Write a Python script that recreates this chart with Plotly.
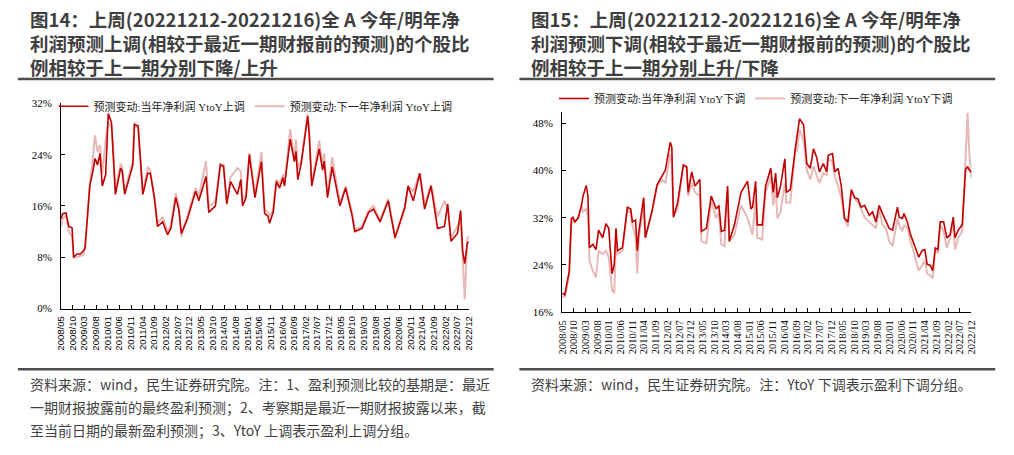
import plotly.graph_objects as go

# 图14 数据(关键点, 读自原图)
l_dates = ["2008-05-01", "2008-05-21", "2008-07-04", "2008-08-10", "2008-09-21", "2008-10-12", "2008-11-24", "2009-01-07", "2009-02-18", "2009-03-10",
           "2009-05-12", "2009-06-12", "2009-07-18", "2009-08-21", "2009-09-21", "2009-10-21", "2009-12-04", "2010-01-07", "2010-02-18", "2010-03-10",
           "2010-04-10", "2010-06-18", "2010-07-07", "2010-08-10", "2010-11-24", "2010-12-15", "2011-02-01", "2011-04-04", "2011-06-07", "2011-07-10",
           "2011-09-01", "2011-10-12", "2011-12-18", "2012-02-21", "2012-04-04", "2012-06-07", "2012-07-18", "2012-08-18", "2012-11-07", "2013-02-21",
           "2013-04-04", "2013-07-07", "2013-08-12", "2013-11-07", "2014-01-10", "2014-02-21", "2014-04-04", "2014-05-24", "2014-08-21", "2014-10-04",
           "2014-10-27", "2014-12-12", "2015-01-24", "2015-04-07", "2015-07-01", "2015-08-12", "2015-09-24", "2015-10-15", "2015-12-01", "2016-01-12",
           "2016-02-24", "2016-04-07", "2016-04-27", "2016-07-10", "2016-09-04", "2016-09-24", "2016-10-18", "2016-12-01", "2017-02-24", "2017-03-15",
           "2017-04-18", "2017-05-18", "2017-07-24", "2017-09-07", "2017-09-27", "2017-11-10", "2018-01-10", "2018-04-21", "2018-07-04", "2018-09-27",
           "2018-11-01", "2019-02-04", "2019-05-01", "2019-07-04", "2019-09-27", "2020-01-12", "2020-04-10", "2020-08-15", "2020-09-27", "2020-12-04",
           "2021-02-27", "2021-05-01", "2021-07-24", "2021-10-18", "2022-01-15", "2022-02-27", "2022-04-10", "2022-07-04", "2022-08-15", "2022-09-10",
           "2022-10-07", "2022-11-10", "2022-12-01"]

l_cur_up = [14.0, 14.8, 14.9, 12.8, 12.6, 8.0, 8.5, 8.5, 9.0, 9.5,
            19.3, 20.9, 23.4, 22.4, 24.2, 19.1, 20.9, 30.4, 29.0, 25.0,
            17.8, 21.9, 21.5, 17.8, 22.4, 28.7, 28.5, 17.8, 21.1, 21.1,
            17.3, 12.8, 13.5, 11.5, 12.5, 17.3, 15.3, 11.7, 14.0, 18.3,
            16.8, 20.6, 15.0, 16.0, 22.4, 22.2, 16.3, 19.8, 17.8, 20.1,
            16.0, 17.3, 24.0, 17.3, 22.9, 14.8, 14.4, 13.3, 15.0, 19.8,
            18.8, 20.4, 19.1, 26.4, 22.9, 24.5, 20.1, 22.6, 30.0, 27.4,
            19.1, 20.9, 24.9, 21.6, 23.0, 17.3, 22.1, 16.0, 18.8, 14.5,
            12.0, 12.5, 15.0, 15.5, 13.5, 16.8, 11.0, 15.8, 19.1, 16.8,
            21.1, 15.5, 19.1, 12.5, 12.8, 16.3, 10.5, 11.7, 15.3, 9.0,
            7.0, 10.2, 10.4]

l_next_up = [12.8, 14.0, 14.5, 12.0, 11.2, 7.9, 8.0, 8.2, 8.4, 9.3,
             19.5, 22.5, 27.0, 24.4, 25.5, 21.0, 26.4, 29.0, 28.5, 25.5,
             18.5, 22.6, 22.0, 18.3, 23.0, 29.0, 28.0, 18.0, 22.1, 21.5,
             17.5, 13.3, 14.3, 12.0, 13.0, 18.0, 16.0, 11.2, 14.5, 18.8,
             17.5, 23.0, 15.8, 16.8, 22.6, 22.3, 17.0, 20.5, 21.9, 21.4,
             17.0, 17.8, 24.2, 17.8, 24.4, 15.5, 15.0, 14.4, 15.5, 20.1,
             19.5, 20.9, 19.5, 28.0, 23.3, 26.4, 22.0, 23.0, 30.3, 27.8,
             19.6, 21.5, 26.2, 22.5, 24.2, 17.8, 23.6, 16.5, 19.1, 15.0,
             12.3, 12.8, 15.3, 16.0, 13.8, 17.1, 11.3, 15.5, 19.1, 18.3,
             21.1, 16.3, 19.3, 14.3, 16.8, 15.5, 11.0, 12.8, 13.5, 8.0,
             1.4, 11.0, 11.2]

# 图15 数据
r_dates = ["2008-05-01", "2008-06-04", "2008-08-01", "2008-08-28", "2008-09-18", "2008-10-12", "2008-11-24", "2009-01-07", "2009-01-28", "2009-03-10",
           "2009-04-01", "2009-04-21", "2009-06-04", "2009-07-15", "2009-08-18", "2009-10-10", "2009-11-21", "2009-12-28", "2010-02-09", "2010-03-10",
           "2010-04-01", "2010-04-21", "2010-06-24", "2010-08-28", "2010-10-10", "2010-11-01", "2010-12-12", "2011-01-04", "2011-01-24", "2011-03-28",
           "2011-04-18", "2011-07-15", "2011-09-18", "2011-11-21", "2012-01-04", "2012-03-07", "2012-03-28", "2012-04-18", "2012-06-12", "2012-08-24",
           "2012-10-07", "2012-10-27", "2012-12-12", "2013-01-24", "2013-03-28", "2013-04-18", "2013-06-21", "2013-08-24", "2013-10-27", "2013-12-01",
           "2014-01-01", "2014-02-12", "2014-03-24", "2014-04-15", "2014-06-21", "2014-09-15", "2014-12-09", "2015-01-21", "2015-02-12", "2015-03-24",
           "2015-04-15", "2015-06-18", "2015-08-01", "2015-10-07", "2015-11-09", "2015-12-09", "2016-01-01", "2016-02-12", "2016-04-07", "2016-04-27",
           "2016-06-18", "2016-08-21", "2016-09-12", "2016-10-15", "2016-12-07", "2017-01-18", "2017-03-04", "2017-04-15", "2017-05-26", "2017-07-01",
           "2017-08-21", "2017-10-04", "2017-10-24", "2017-12-18", "2018-01-18", "2018-03-01", "2018-04-12", "2018-05-24", "2018-07-07", "2018-08-21",
           "2018-10-04", "2018-11-15", "2018-12-26", "2019-02-09", "2019-04-12", "2019-05-24", "2019-07-07", "2019-08-18", "2019-10-01", "2019-11-15",
           "2019-12-26", "2020-02-09", "2020-04-12", "2020-05-04", "2020-06-15", "2020-07-07", "2020-08-18", "2020-10-01", "2020-12-04", "2021-01-15",
           "2021-02-26", "2021-04-04", "2021-05-04", "2021-06-15", "2021-07-15", "2021-08-18", "2021-09-21", "2021-10-21", "2021-12-04", "2022-01-15",
           "2022-02-26", "2022-04-09", "2022-05-01", "2022-06-12", "2022-08-04", "2022-09-15", "2022-10-12", "2022-11-04", "2022-12-01"]

r_cur_down = [19.2, 18.9, 23.0, 31.9, 32.1, 31.3, 31.9, 34.1, 35.7, 37.5,
              35.7, 26.9, 27.5, 26.6, 29.9, 28.6, 31.0, 30.2, 22.5, 24.1,
              30.2, 26.4, 26.9, 33.8, 33.5, 31.3, 31.6, 26.4, 29.7, 35.4,
              28.6, 33.2, 37.6, 39.0, 40.1, 44.8, 44.0, 32.1, 34.6, 40.9,
              40.7, 36.3, 39.8, 37.4, 38.5, 29.7, 30.2, 35.7, 33.5, 34.1,
              29.7, 29.9, 37.4, 28.0, 30.8, 36.3, 38.2, 33.5, 33.8, 38.2,
              30.8, 30.8, 37.4, 40.4, 36.3, 39.6, 35.4, 37.4, 42.0, 36.3,
              36.8, 43.7, 45.6, 48.8, 47.8, 41.2, 40.4, 43.7, 42.3, 39.8,
              41.2, 39.8, 42.6, 42.9, 39.8, 40.4, 37.4, 31.9, 31.3, 36.8,
              35.4, 35.2, 33.8, 34.1, 32.4, 33.0, 31.3, 34.1, 32.7, 31.3,
              30.2, 29.9, 33.8, 32.1, 31.9, 32.7, 31.3, 29.1, 26.6, 25.3,
              26.4, 26.6, 24.1, 23.9, 23.0, 26.9, 26.6, 31.3, 31.3, 28.6,
              29.1, 32.1, 28.6, 29.9, 30.8, 40.1, 40.7, 40.1, 39.7]

r_next_down = [18.6, 18.6, 22.2, 30.8, 31.6, 31.3, 32.1, 34.1, 33.0, 33.5,
               32.4, 24.7, 23.0, 21.9, 26.4, 25.8, 26.4, 25.3, 19.7, 19.2,
               28.0, 25.8, 26.4, 33.5, 32.7, 30.8, 28.6, 22.5, 28.6, 34.1,
               28.6, 33.0, 37.4, 38.5, 37.9, 42.9, 41.2, 32.4, 33.5, 41.2,
               40.4, 35.7, 37.9, 36.3, 35.7, 28.0, 27.7, 34.9, 31.9, 33.0,
               27.5, 27.2, 36.8, 28.0, 29.1, 34.1, 32.0, 30.0, 29.1, 35.2,
               28.6, 28.3, 36.3, 39.0, 34.1, 37.4, 31.9, 33.0, 37.9, 34.6,
               34.6, 43.4, 43.4, 47.0, 45.1, 40.1, 38.5, 40.7, 39.3, 37.9,
               39.6, 39.3, 42.0, 41.5, 39.0, 37.4, 35.4, 31.9, 30.5, 36.5,
               35.2, 34.6, 33.5, 32.1, 31.3, 30.8, 30.2, 33.5, 30.8, 30.2,
               28.0, 27.2, 31.9, 30.8, 29.7, 30.8, 30.2, 28.0, 25.0, 23.0,
               23.9, 24.7, 22.5, 22.2, 21.7, 26.4, 26.1, 30.8, 29.7, 26.9,
               28.6, 30.8, 26.6, 28.6, 29.7, 40.7, 49.8, 42.9, 38.7]

tick_labels = ["2008/05", "2008/10", "2009/03", "2009/08", "2010/01", "2010/06", "2010/11", "2011/04", "2011/09",
               "2012/02", "2012/07", "2012/12", "2013/05", "2013/10", "2014/03", "2014/08", "2015/01", "2015/06",
               "2015/11", "2016/04", "2016/09", "2017/02", "2017/07", "2017/12", "2018/05", "2018/10", "2019/03",
               "2019/08", "2020/01", "2020/06", "2020/11", "2021/04", "2021/09", "2022/02", "2022/07", "2022/12"]
tick_vals = [t.replace("/", "-") + "-01" for t in tick_labels]

l_yticks = [0, 8, 16, 24, 32]
r_yticks = [16, 24, 32, 40, 48]

DARK = "#C00000"
LIGHT = "#E6B9B8"
CJK = "Noto Sans CJK SC"
TXT = "#3F3F3F"
W, H = 1014, 455

fig = go.Figure()

fig.add_trace(go.Scatter(x=l_dates, y=l_next_up, mode="lines", name="预测变动:下一年净利润 YtoY上调",
                         line=dict(color=LIGHT, width=2), xaxis="x", yaxis="y", legend="legend"))
fig.add_trace(go.Scatter(x=l_dates, y=l_cur_up, mode="lines", name="预测变动:当年净利润 YtoY上调",
                         line=dict(color=DARK, width=1.6), xaxis="x", yaxis="y", legend="legend"))
fig.add_trace(go.Scatter(x=r_dates, y=r_next_down, mode="lines", name="预测变动:下一年净利润 YtoY下调",
                         line=dict(color=LIGHT, width=2), xaxis="x2", yaxis="y2", legend="legend2"))
fig.add_trace(go.Scatter(x=r_dates, y=r_cur_down, mode="lines", name="预测变动:当年净利润 YtoY下调",
                         line=dict(color=DARK, width=1.6), xaxis="x2", yaxis="y2", legend="legend2"))

xcommon = dict(type="date", range=["2008-05-01", "2022-12-01"], tickvals=tick_vals, ticktext=tick_labels,
               tickangle=-90, ticks="inside", ticklen=4, tickcolor="black", showline=True, linecolor="black",
               linewidth=1, showgrid=False, zeroline=False, ticklabelstandoff=3)
ycommon = dict(ticks="inside", ticklen=4, tickcolor="black", showline=True, linecolor="black", linewidth=1,
               showgrid=False, zeroline=False, ticklabelstandoff=6,
               tickfont=dict(family="Liberation Serif", size=11, color="black"))

legend_common = dict(orientation="h", xanchor="left", yanchor="middle", bgcolor="rgba(0,0,0,0)",
                     font=dict(family="Liberation Serif, " + CJK, size=11, color="#222222"),
                     traceorder="reversed", itemclick=False, itemdoubleclick=False)

fig.update_layout(
    width=W, height=H, autosize=False,
    margin=dict(l=0, r=0, t=0, b=0),
    paper_bgcolor="white", plot_bgcolor="white",
    showlegend=True,
    xaxis=dict(domain=[55.7 / W, 468 / W], anchor="y",
               tickfont=dict(family="Liberation Sans", size=9.5, color="black"), **xcommon),
    yaxis=dict(domain=[1 - 310.7 / H, 1 - 100 / H], anchor="x", range=[0, 32],
               tickvals=l_yticks, ticktext=[f"{v}%" for v in l_yticks], **ycommon),
    xaxis2=dict(domain=[562.3 / W, 976 / W], anchor="y2",
                tickfont=dict(family="Liberation Serif", size=10.5, color="black"), **xcommon),
    yaxis2=dict(domain=[1 - 314.3 / H, 1 - 108.6 / H], anchor="x2", range=[16, 50],
                tickvals=r_yticks, ticktext=[f"{v}%" for v in r_yticks], **ycommon),
    legend=dict(x=48 / W, y=1 - 103 / H, **legend_common),
    legend2=dict(x=554 / W, y=1 - 95 / H, **legend_common),
)

# 标题
title_l = ["图14：上周(20221212-20221216)全 A 今年/明年净",
           "利润预测上调(相较于最近一期财报前的预测)的个股比",
           "例相较于上一期分别下降/上升"]
title_r = ["图15：上周(20221212-20221216)全 A 今年/明年净",
           "利润预测下调(相较于最近一期财报前的预测)的个股比",
           "例相较于上一期分别上升/下降"]
note_l = ["资料来源：wind，民生证券研究院。注：1、盈利预测比较的基期是：最近",
          "一期财报披露前的最终盈利预测；2、考察期是最近一期财报披露以来，截",
          "至当前日期的最新盈利预测；3、YtoY 上调表示盈利上调分组。"]
note_r = ["资料来源：wind，民生证券研究院。注：YtoY 下调表示盈利下调分组。"]

for x0, lines in ((22, title_l), (529, title_r)):
    fig.add_annotation(text="<br>".join("<b>" + s + "</b>" for s in lines), x=x0 / W, y=1 - 37.5 / H,
                       xref="paper", yref="paper", xanchor="left", yanchor="middle", align="left",
                       showarrow=False, font=dict(family=CJK, size=18.5, color=TXT))

for x0, lines in ((22, note_l), (529, note_r)):
    for i, txt in enumerate(lines):
        fig.add_annotation(text=txt, x=x0 / W, y=1 - (388 + i * 23.5) / H, xref="paper", yref="paper",
                           xanchor="left", yanchor="middle", showarrow=False,
                           font=dict(family=CJK, size=14, color=TXT))

# 分隔线
for x0, x1 in ((12, 493), (519, 1000)):
    for ypx in (75, 373):
        fig.add_shape(type="line", xref="paper", yref="paper", x0=x0 / W, x1=x1 / W,
                      y0=1 - ypx / H, y1=1 - ypx / H, line=dict(color="#4D4D4D", width=2.5))

fig.write_html("out.html", config={"displayModeBar": False},
               post_script="document.body.style.margin='0';")
